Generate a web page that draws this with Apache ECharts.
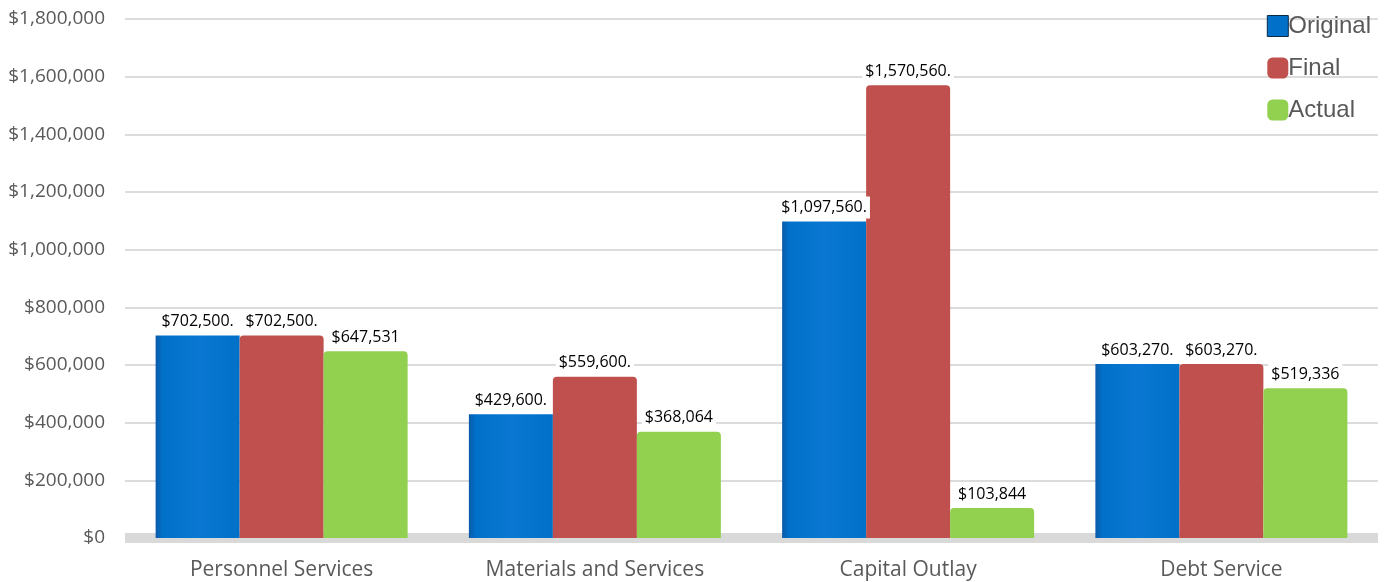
<!DOCTYPE html>
<html><head><meta charset="utf-8">
<script src="https://cdn.jsdelivr.net/npm/echarts@6/dist/echarts.min.js"></script>
<style>html,body{margin:0;padding:0;background:#fff}#c{width:1388px;height:582px}</style>
</head><body><div id="c"></div>
<script>
const categories = ['Personnel Services', 'Materials and Services', 'Capital Outlay', 'Debt Service'];
const originalValues = [702500, 429600, 1097560, 603270];
const finalValues = [702500, 559600, 1570560, 603270];
const actualValues = [647531, 368064, 103844, 519336];
const originalLabels = ['$702,500.', '$429,600.', '$1,097,560.', '$603,270.'];
const finalLabels = ['$702,500.', '$559,600.', '$1,570,560.', '$603,270.'];
const actualLabels = ['$647,531', '$368,064', '$103,844', '$519,336'];

const chart = echarts.init(document.getElementById('c'));
const lbl = (arr) => ({
  show: true, position: 'top', distance: 3,
  formatter: p => arr[p.dataIndex],
  color: '#000', fontSize: 16, fontFamily: 'Open Sans',
  backgroundColor: '#fff', padding: [3, 3, 3, 3]
});
chart.setOption({
  animation: false,
  grid: { left: 125, right: 10, top: 19, bottom: 44 },
  legend: {
    orient: 'vertical', right: 12, top: 9, itemGap: 18,
    itemWidth: 21, itemHeight: 21,
    textStyle: { fontSize: 24, color: '#595959', fontFamily: 'Liberation Sans', padding: [0, 0, 0, -5] },
    data: [
      { name: 'Original', icon: 'rect', itemStyle: { color: '#0070c8', borderColor: '#0a2a4a', borderWidth: 1 } },
      { name: 'Final', icon: 'roundRect' },
      { name: 'Actual', icon: 'roundRect' }
    ]
  },
  xAxis: {
    type: 'category', data: categories,
    axisLine: { lineStyle: { color: '#d9d9d9', width: 10, cap: 'butt' } },
    axisTick: { show: false },
    axisLabel: { fontSize: 21, color: '#595959', fontFamily: 'Open Sans', margin: 22 }
  },
  yAxis: {
    type: 'value', min: 0, max: 1800000, interval: 200000,
    axisLine: { show: false }, axisTick: { show: false },
    splitLine: { lineStyle: { color: '#dcdcdc', width: 2 } },
    axisLabel: {
      fontSize: 19, color: '#595959', fontFamily: 'Open Sans', margin: 20,
      formatter: v => '$' + v.toLocaleString('en-US')
    }
  },
  series: [
    { name: 'Original', type: 'bar', data: originalValues, barWidth: 84, barGap: '0%',
      itemStyle: { color: { type: 'linear', x: 0, y: 0, x2: 1, y2: 0, colorStops: [
        { offset: 0, color: '#0b5aa8' }, { offset: 0.08, color: '#0070c8' }, { offset: 0.5, color: '#0a78d2' }, { offset: 1, color: '#0070c8' } ] } },
      label: lbl(originalLabels) },
    { name: 'Final', type: 'bar', data: finalValues, barWidth: 84,
      itemStyle: { color: '#c0504d', borderRadius: [4, 4, 0, 0] },
      label: lbl(finalLabels) },
    { name: 'Actual', type: 'bar', data: actualValues, barWidth: 84,
      itemStyle: { color: '#92d050', borderRadius: [4, 4, 0, 0] },
      label: lbl(actualLabels) }
  ]
});
</script></body></html>
